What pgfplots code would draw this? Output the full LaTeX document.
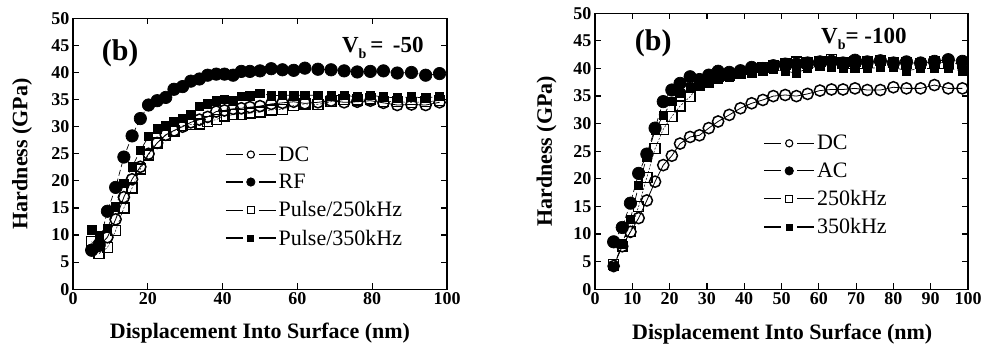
\documentclass[border=0pt]{standalone}
\usepackage{fontspec}
\setmainfont{Liberation Serif}
\usepackage{pgfplots}
\pgfplotsset{compat=1.18}

\pgfplotstableread{
x     DC    RF    P250  P350
5     7.3   7.2   8.8   11.0
7     8.0   8.3   6.6   10.0
9.2   9.6   14.4  7.7   11.2
11.4  12.9  18.8  10.8  15.2
13.6  17.0  24.4  15.0  19.5
15.8  20.3  28.3  18.7  22.6
18    22.6  31.5  22.2  25.6
20.2  25.0  34.0  24.8  28.2
22.5  27.0  34.8  27.0  29.6
24.8  28.5  35.4  28.4  30.3
27    29.3  36.9  29.2  31.0
29.3  30.0  37.4  30.2  31.5
31.5  30.8  38.4  30.4  32.3
33.8  31.3  38.8  30.5  33.7
36    31.8  39.5  31.0  34.2
38.3  32.8  39.7  31.3  34.8
40.5  33.0  39.7  32.0  35.0
42.8  33.3  39.5  32.2  34.8
45    33.4  40.2  32.3  35.6
47.3  33.6  40.2  32.5  35.7
50    33.8  40.3  32.7  36.2
53    34.2  40.7  33.1  35.7
56    34.4  40.5  33.2  35.8
59    34.6  40.4  33.9  35.8
62    34.3  40.8  34.2  35.8
65.5  34.5  40.6  34.1  35.8
69    34.8  40.5  34.6  35.7
72.5  34.5  40.3  35.0  35.8
76    34.6  40.1  34.9  35.5
79.5  34.8  40.2  35.1  35.8
83    34.4  40.3  34.7  35.5
86.7  34.0  39.9  34.6  35.3
90.5  34.1  40.0  34.5  35.5
94.3  34.0  39.5  34.6  35.3
98    34.5  39.8  34.8  35.6
}\leftdata

\pgfplotstableread{
x     DC    AC    K250  K350
5     4.2   8.6   4.5   4.2
7.3   7.8   11.2  7.7   8.2
9.5   10.4  15.6  10.5  12.7
11.7  12.9  21.0  15.0  18.8
13.9  16.1  24.5  20.3  24.0
16.1  19.5  29.2  25.5  28.8
18.3  22.5  34.0  29.0  31.5
20.6  24.2  36.1  31.3  34.0
22.8  26.4  37.3  33.2  35.5
25.5  27.6  38.5  34.9  36.5
28    27.9  38.0  37.0  37.0
30.5  29.2  38.8  37.6  37.4
33    30.4  39.5  38.5  38.0
36    31.6  39.3  38.8  38.5
39    32.8  39.6  39.2  39.0
42    33.7  40.2  39.8  39.2
45    34.3  40.0  40.2  39.5
47.8  35.0  40.5  40.5  39.8
51    35.2  40.8  40.8  39.5
54    35.0  40.8  41.2  39.2
57    35.4  41.0  41.0  40.0
60.3  36.0  41.2  41.3  40.5
63.4  36.2  41.3  41.6  40.3
66.5  36.2  41.0  41.0  40.0
69.7  36.4  41.5  41.3  40.0
73    36.1  41.2  41.2  40.0
76.5  36.1  41.4  41.4  40.2
80    36.6  41.0  41.1  40.2
83.5  36.4  41.2  41.0  39.6
87.3  36.4  41.0  40.9  40.0
91    37.0  41.3  41.2  40.0
94.7  36.4  41.6  41.0  40.0
98.5  36.4  41.3  40.9  39.6
}\rightdata

\pgfplotsset{
  hard/.style={
    scale only axis,
    anchor=south west,
    xmin=0, xmax=100, ymin=0, ymax=50,
    ytick={0,5,...,50},
    tick align=inside,
    major tick length=6pt,
    axis line style={line width=1.5pt},
    every tick/.style={line width=1.2pt, black},
    /pgf/number format/assume math mode=true,
    tick label style={font=\fontsize{18}{18}\selectfont\bfseries},
    label style={font=\fontsize{22}{22}\selectfont\bfseries},
    xlabel={Displacement Into Surface (nm)},
    ylabel={Hardness (GPa)},
    legend style={draw=none, fill=none, font=\fontsize{22}{22}\selectfont, inner sep=0pt, anchor=north west,
      nodes={inner xsep=2pt}},
    legend cell align=left,
  },
  lgimg/.style n args={3}{legend image code/.code={%
    \draw[solid, line width=#1] (0pt,0pt)--(17pt,0pt) (33pt,0pt)--(50pt,0pt);
    \draw[solid, mark size=#2, mark options={#3}] plot coordinates {(25pt,0pt)};}},
  sDC/.style={lgimg={1.6pt}{3.6pt}{solid, fill=white, line width=1.1pt}, black, line width=0.8pt, solid, mark=o, mark size=5.6pt, mark options={solid, fill=white, line width=1.5pt}},
  sRF/.style={lgimg={1.1pt}{4.2pt}{solid}, black, line width=0.7pt, dash pattern=on 6pt off 3pt, mark=*, mark size=6.2pt, mark options={solid}},
  s250/.style={lgimg={0.6pt}{3.4pt}{solid, fill=white, line width=1.1pt}, black, line width=0.5pt, dash pattern=on 2pt off 1.5pt, mark=square, mark size=5pt, mark options={solid, fill=white, line width=1.4pt}},
  s350/.style={lgimg={1.3pt}{3.0pt}{solid}, black, line width=0.7pt, dash pattern=on 7pt off 3pt, mark=square*, mark size=4.2pt, mark options={solid}},
}

\begin{document}
\begin{tikzpicture}
\useasboundingbox (0,0) rectangle (986pt,352pt);
\begin{axis}[hard,
  at={(73pt,62.7pt)}, width=374pt, height=271pt,
  xtick={0,20,...,100},
  ylabel style={at={(axis description cs:-0.1364,0.5)}, anchor=center},
  xlabel style={at={(axis description cs:0.5,-0.162)}, anchor=center},
  legend style={at={(axis description cs:0.406,0.535)}, row sep=7.5pt},
]
\addplot[sDC] table[x=x,y=DC] {\leftdata};
\addlegendentry{DC}
\addplot[sRF] table[x=x,y=RF] {\leftdata};
\addlegendentry{RF}
\addplot[s250] table[x=x,y=P250] {\leftdata};
\addlegendentry{Pulse/250kHz}
\addplot[s350] table[x=x,y=P350] {\leftdata};
\addlegendentry{Pulse/350kHz}
\node[font=\fontsize{30}{30}\selectfont\bfseries] at (axis cs:12.6,43.6) {(b)};
\node[font=\fontsize{23}{23}\selectfont\bfseries, anchor=base east] at (axis cs:94.7,43.6) {V\raisebox{-6pt}{\fontsize{14}{14}\selectfont b}\,=\,\ -50};
\end{axis}
\begin{axis}[hard,
  at={(595pt,62.7pt)}, width=373pt, height=276pt,
  xtick={0,10,...,100},
  ylabel style={at={(axis description cs:-0.13,0.5)}, anchor=center},
  xlabel style={at={(axis description cs:0.502,-0.163)}, anchor=center},
  legend style={at={(axis description cs:0.451,0.566)}, row sep=7.5pt},
]
\addplot[sDC] table[x=x,y=DC] {\rightdata};
\addlegendentry{DC}
\addplot[sRF] table[x=x,y=AC] {\rightdata};
\addlegendentry{AC}
\addplot[s250] table[x=x,y=K250] {\rightdata};
\addlegendentry{250kHz}
\addplot[s350] table[x=x,y=K350] {\rightdata};
\addlegendentry{350kHz}
\node[font=\fontsize{30}{30}\selectfont\bfseries] at (axis cs:15.6,44.6) {(b)};
\node[font=\fontsize{23}{23}\selectfont\bfseries, anchor=base east] at (axis cs:84.5,44.6) {V\raisebox{-6pt}{\fontsize{14}{14}\selectfont b}= -100};
\end{axis}
\end{tikzpicture}
\end{document}
